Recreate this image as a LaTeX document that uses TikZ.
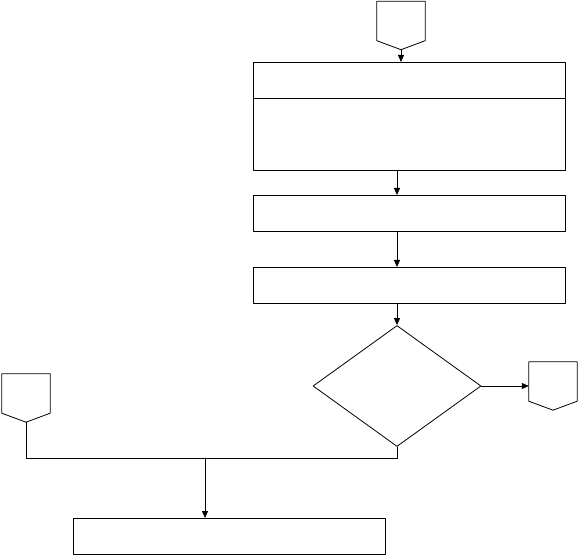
\documentclass[tikz,border=0pt]{standalone}
\usetikzlibrary{arrows.meta,shapes.geometric}

\begin{document}
\begin{tikzpicture}[x=1pt,y=-1pt,line cap=round,line join=round,
  box/.style={draw,line width=0.8pt,minimum width=312pt,inner sep=0pt},
  offpage/.style={minimum width=48pt,minimum height=39pt,inner sep=0pt},
  decision/.style={draw,diamond,line width=0.8pt,minimum width=168pt,minimum height=121pt,inner sep=0pt},
  flow/.style={line width=0.8pt},
  arr/.style={flow,-{Triangle[length=7pt,width=6pt]}}]
\useasboundingbox (0,0) rectangle (579,556);
\node[offpage] (conA) at (401,21) {};
\node[offpage] (conB) at (26,393.5) {};
\node[offpage] (conC) at (553,381.5) {};
\foreach \n in {conA,conB,conC}
  \draw[flow] (\n.north west) -- (\n.south west) -- ([yshift=-9pt]\n.south) -- (\n.south east) -- (\n.north east) -- cycle;
\coordinate (tipA) at ([yshift=-9pt]conA.south);
\coordinate (tipB) at ([yshift=-9pt]conB.south);
\node[box,minimum height=36pt,anchor=north west] (box1a) at (253,62) {};
\node[box,minimum height=72pt,anchor=north west] (box1b) at (253,98) {};
\node[box,minimum height=36pt,anchor=north west] (box2) at (253,195) {};
\node[box,minimum height=36pt,anchor=north west] (box3) at (253,267) {};
\node[decision] (dia) at (397,386) {};
\node[box,minimum height=36pt,anchor=north west] (box4) at (73,518) {};
\coordinate (join) at (205,458);
\draw[arr] (tipA) -- (tipA |- box1a.north);
\draw[arr] (box1b.south -| dia.north) -- (box2.north -| dia.north);
\draw[arr] (box2.south -| dia.north) -- (box3.north -| dia.north);
\draw[arr] (box3.south -| dia.north) -- (dia.north);
\draw[arr] (dia.east) -- (conC.west |- dia.east);
\draw[flow] (dia.south) -- (dia.south |- join) -- (tipB |- join) -- (tipB);
\draw[arr] (join) -- (join |- box4.north);
\end{tikzpicture}
\end{document}
